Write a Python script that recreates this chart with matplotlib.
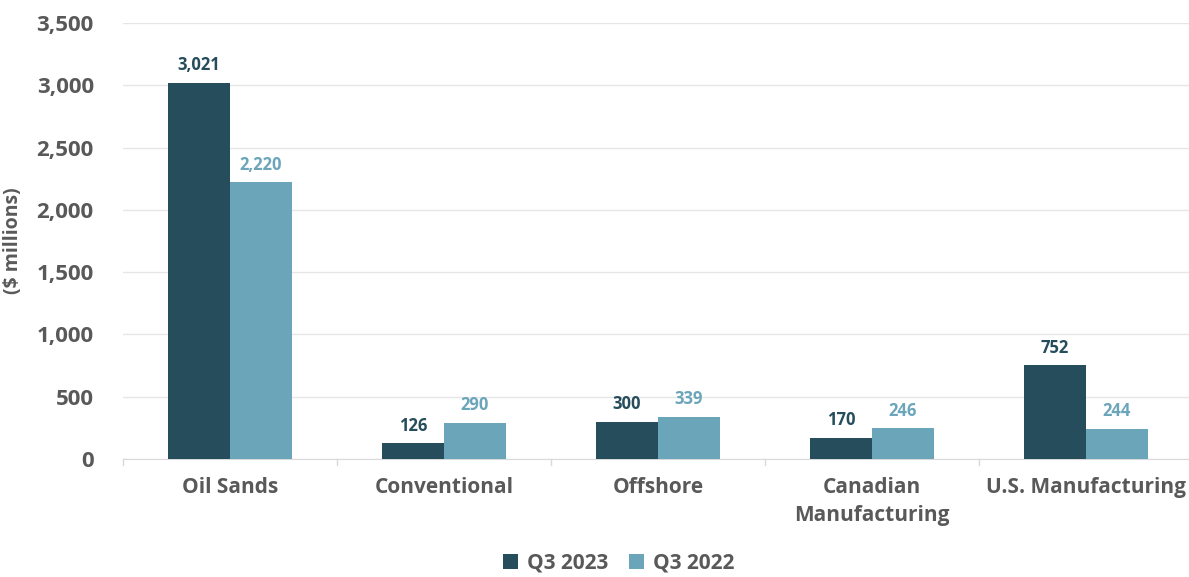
import matplotlib
matplotlib.use("Agg")
import matplotlib.pyplot as plt
import numpy as np

categories = ["Oil Sands", "Conventional", "Offshore", "Canadian\nManufacturing", "U.S. Manufacturing"]
q3_2023 = [3021, 126, 300, 170, 752]
q3_2022 = [2220, 290, 339, 246, 244]
series_names = ["Q3 2023", "Q3 2022"]
yticks = [0, 500, 1000, 1500, 2000, 2500, 3000, 3500]

dark = "#264D5C"
light = "#6BA5BA"
gray = "#595959"

plt.rcParams['font.family'] = ['Open Sans', 'DejaVu Sans']

fig = plt.figure(figsize=(11.89, 5.77), dpi=100)
ax = fig.add_axes([0.1034, 0.2045, 0.9, 0.7556])

x = np.arange(len(categories))
w = 0.29
b1 = ax.bar(x - w/2, q3_2023, w, color=dark, label=series_names[0], zorder=3)
b2 = ax.bar(x + w/2, q3_2022, w, color=light, label=series_names[1], zorder=3)

for rect, v in zip(b1, q3_2023):
    ax.text(rect.get_x() + rect.get_width()/2, v + 70, f"{v:,}", ha="center", va="bottom",
            color=dark, fontsize=12, fontweight="bold")
for rect, v in zip(b2, q3_2022):
    ax.text(rect.get_x() + rect.get_width()/2, v + 70, f"{v:,}", ha="center", va="bottom",
            color=light, fontsize=12, fontweight="bold")

ax.set_xlim(-0.5, len(categories) - 0.5)
ax.set_ylim(0, 3500)
ax.set_yticks(yticks)
ax.set_yticklabels([f"{t:,}" for t in yticks], color=gray, fontsize=16, fontweight="bold")
ax.tick_params(axis="y", length=0, pad=21)
ax.grid(axis="y", color="#E6E6E6", linewidth=1, zorder=0)

ax.set_xticks(x)
ax.set_xticklabels(categories, color=gray, fontsize=15, fontweight="bold", linespacing=1.45)
ax.tick_params(axis="x", length=0, pad=13)
for sep in np.arange(-0.5, len(categories), 1.0):
    ax.plot([sep, sep], [0, -0.014], transform=ax.get_xaxis_transform(), color="#D9D9D9",
            linewidth=1, clip_on=False)

for s in ["top", "right", "left"]:
    ax.spines[s].set_visible(False)
ax.spines["bottom"].set_color("#D9D9D9")

ax.set_ylabel("($ millions)", color=gray, fontsize=14, fontweight="bold", labelpad=10)

leg = fig.legend(handles=[b1, b2], labels=series_names, loc="lower center",
                 bbox_to_anchor=(0.52, -0.027), ncol=2, frameon=False,
                 fontsize=15, handlelength=0.75, handleheight=0.75, handletextpad=0.4,
                 columnspacing=1.0)
for t in leg.get_texts():
    t.set_color(gray)
    t.set_fontweight("bold")

fig.savefig("out.png", dpi=100)
